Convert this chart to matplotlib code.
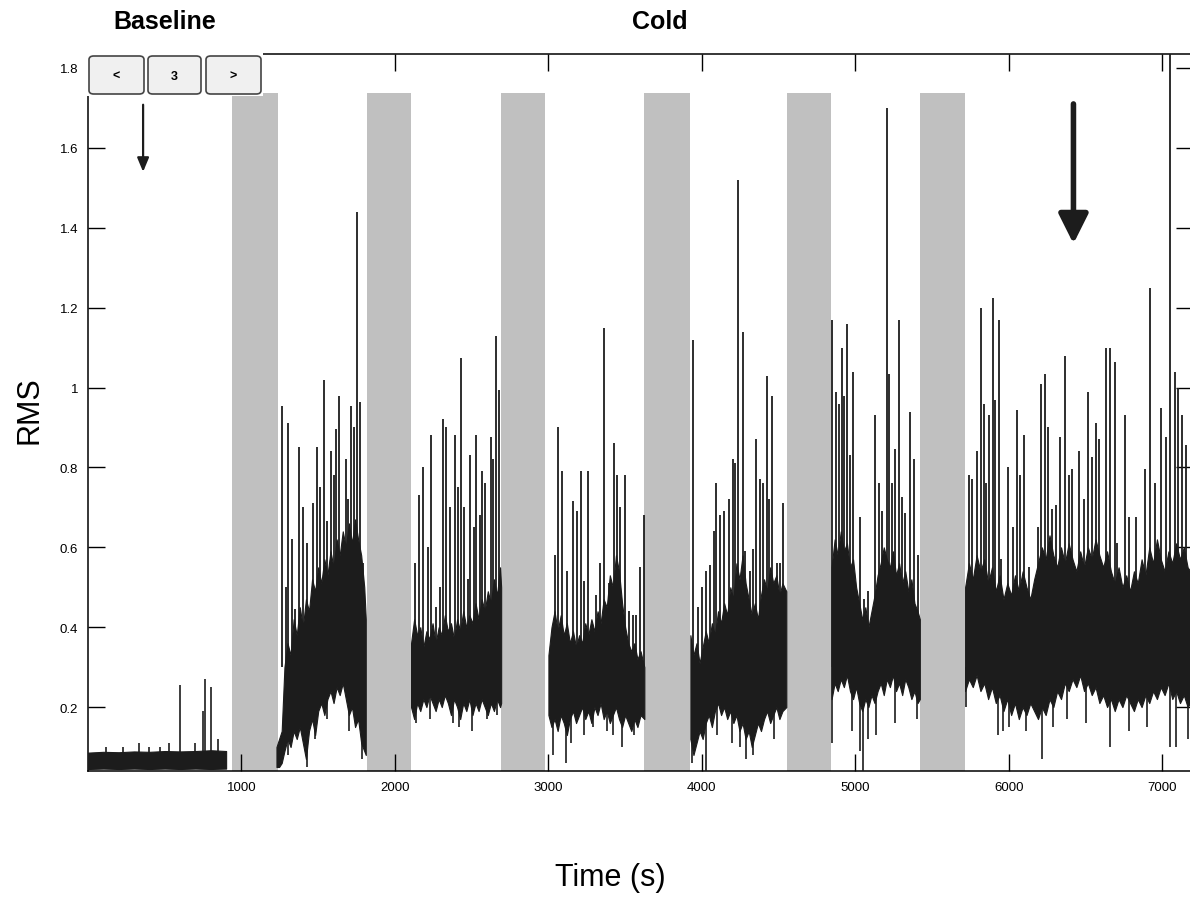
import matplotlib
matplotlib.use('Agg')
import matplotlib.pyplot as plt
from matplotlib.patches import FancyBboxPatch, Rectangle

plt.rcParams['font.family'] = ['Liberation Sans', 'DejaVu Sans']

# cold exposure periods (grey bands), seconds
band_start = [940, 1815, 2690, 3625, 4555, 5420]
band_width = [300, 290, 290, 295, 285, 295]
band_top = 1.7375

# dense part of the RMS trace: time knots with lower / upper edge
base_t = [0, 100, 200, 300, 400, 500, 600, 700, 800, 900]
base_lo = [0.045, 0.046, 0.045, 0.046, 0.045, 0.046, 0.045, 0.046, 0.045, 0.046]
base_hi = [0.086, 0.088, 0.087, 0.089, 0.088, 0.090, 0.089, 0.090, 0.092, 0.090]

a_t = [1228, 1245, 1262, 1280, 1300, 1320, 1340, 1360, 1380, 1400, 1420, 1440, 1460, 1480, 1500, 1520,
       1540, 1560, 1580, 1600, 1620, 1640, 1660, 1680, 1700, 1720, 1740, 1760, 1780, 1800, 1810]
a_lo = [0.05, 0.05, 0.06, 0.09, 0.12, 0.10, 0.14, 0.12, 0.15, 0.11, 0.07, 0.14, 0.17, 0.13, 0.19, 0.21,
        0.18, 0.22, 0.24, 0.21, 0.25, 0.23, 0.26, 0.22, 0.18, 0.20, 0.15, 0.17, 0.11, 0.09, 0.08]
a_hi = [0.10, 0.12, 0.14, 0.30, 0.36, 0.33, 0.42, 0.38, 0.45, 0.40, 0.47, 0.44, 0.52, 0.49, 0.55, 0.51,
        0.57, 0.53, 0.59, 0.55, 0.62, 0.58, 0.64, 0.60, 0.66, 0.61, 0.67, 0.62, 0.58, 0.50, 0.42]

b_t = [2105, 2125, 2145, 2165, 2185, 2205, 2225, 2245, 2265, 2285, 2305, 2325, 2345, 2365, 2385, 2405,
       2425, 2445, 2465, 2485, 2505, 2525, 2545, 2565, 2585, 2605, 2625, 2645, 2665, 2685, 2692]
b_lo = [0.20, 0.17, 0.21, 0.19, 0.22, 0.20, 0.23, 0.21, 0.19, 0.22, 0.20, 0.23, 0.21, 0.18, 0.22, 0.20,
        0.17, 0.21, 0.19, 0.22, 0.18, 0.21, 0.19, 0.22, 0.20, 0.18, 0.21, 0.19, 0.22, 0.20, 0.21]
b_hi = [0.36, 0.42, 0.38, 0.40, 0.35, 0.39, 0.37, 0.41, 0.36, 0.40, 0.38, 0.43, 0.39, 0.41, 0.37, 0.42,
        0.39, 0.44, 0.40, 0.43, 0.41, 0.46, 0.42, 0.47, 0.44, 0.49, 0.46, 0.52, 0.48, 0.55, 0.50]

c_t = [3000, 3020, 3040, 3060, 3080, 3100, 3120, 3140, 3160, 3180, 3200, 3220, 3240, 3260, 3280, 3300,
       3320, 3340, 3360, 3380, 3400, 3420, 3440, 3460, 3480, 3500, 3520, 3540, 3560, 3580, 3600, 3625]
c_lo = [0.18, 0.15, 0.17, 0.14, 0.18, 0.16, 0.13, 0.17, 0.19, 0.16, 0.18, 0.20, 0.17, 0.19, 0.16, 0.20,
        0.18, 0.21, 0.17, 0.19, 0.16, 0.18, 0.20, 0.17, 0.15, 0.18, 0.16, 0.14, 0.17, 0.15, 0.18, 0.17]
c_hi = [0.33, 0.40, 0.44, 0.39, 0.43, 0.38, 0.41, 0.36, 0.39, 0.35, 0.38, 0.36, 0.41, 0.38, 0.42, 0.39,
        0.44, 0.41, 0.47, 0.45, 0.53, 0.50, 0.58, 0.54, 0.46, 0.40, 0.36, 0.34, 0.36, 0.32, 0.34, 0.30]

d_t = [3925, 3945, 3965, 3985, 4005, 4025, 4045, 4065, 4085, 4105, 4125, 4145, 4165, 4185, 4205, 4225,
       4245, 4265, 4285, 4305, 4325, 4345, 4365, 4385, 4405, 4425, 4445, 4465, 4485, 4505, 4525, 4550]
d_lo = [0.12, 0.08, 0.11, 0.14, 0.12, 0.16, 0.18, 0.15, 0.19, 0.21, 0.18, 0.20, 0.17, 0.19, 0.16, 0.18,
        0.14, 0.16, 0.12, 0.14, 0.10, 0.13, 0.16, 0.14, 0.17, 0.19, 0.16, 0.18, 0.20, 0.17, 0.19, 0.20]
d_hi = [0.38, 0.33, 0.36, 0.31, 0.35, 0.39, 0.36, 0.41, 0.38, 0.44, 0.41, 0.46, 0.43, 0.50, 0.47, 0.56,
        0.52, 0.58, 0.51, 0.47, 0.43, 0.46, 0.42, 0.48, 0.52, 0.49, 0.55, 0.51, 0.53, 0.48, 0.51, 0.49]

e_t = [4845, 4865, 4885, 4905, 4925, 4945, 4965, 4985, 5005, 5025, 5045, 5065, 5085, 5105, 5125, 5145,
       5165, 5185, 5205, 5225, 5245, 5265, 5285, 5305, 5325, 5345, 5365, 5385, 5405, 5420]
e_lo = [0.22, 0.26, 0.24, 0.27, 0.25, 0.28, 0.24, 0.22, 0.25, 0.21, 0.19, 0.22, 0.20, 0.23, 0.21, 0.24,
        0.26, 0.23, 0.27, 0.25, 0.28, 0.24, 0.26, 0.23, 0.27, 0.25, 0.22, 0.24, 0.21, 0.22]
e_hi = [0.55, 0.62, 0.58, 0.64, 0.59, 0.61, 0.55, 0.57, 0.50, 0.46, 0.42, 0.45, 0.40, 0.44, 0.48, 0.53,
        0.56, 0.60, 0.57, 0.55, 0.59, 0.53, 0.56, 0.51, 0.54, 0.49, 0.52, 0.46, 0.44, 0.42]

f_t = [5715, 5740, 5765, 5790, 5815, 5840, 5865, 5890, 5915, 5940, 5965, 5990, 6015, 6040, 6065, 6090,
       6115, 6140, 6165, 6190, 6215, 6240, 6265, 6290, 6315, 6340, 6365, 6390, 6415, 6440, 6465, 6490,
       6515, 6540, 6565, 6590, 6615, 6640, 6665, 6690, 6715, 6740, 6765, 6790, 6815, 6840, 6865, 6890,
       6915, 6940, 6965, 6990, 7015, 7040, 7065, 7090, 7115, 7140, 7165, 7200]
f_lo = [0.24, 0.27, 0.25, 0.28, 0.24, 0.26, 0.22, 0.25, 0.21, 0.23, 0.19, 0.22, 0.18, 0.21, 0.17, 0.20,
        0.18, 0.21, 0.19, 0.17, 0.20, 0.18, 0.22, 0.20, 0.24, 0.22, 0.26, 0.24, 0.27, 0.25, 0.28, 0.24,
        0.26, 0.23, 0.25, 0.21, 0.23, 0.20, 0.22, 0.19, 0.22, 0.20, 0.23, 0.21, 0.19, 0.22, 0.20, 0.23,
        0.21, 0.24, 0.22, 0.25, 0.23, 0.26, 0.22, 0.24, 0.21, 0.23, 0.20, 0.22]
f_hi = [0.50, 0.56, 0.52, 0.58, 0.54, 0.57, 0.51, 0.55, 0.49, 0.53, 0.47, 0.51, 0.48, 0.53, 0.49, 0.54,
        0.50, 0.47, 0.52, 0.56, 0.60, 0.57, 0.63, 0.58, 0.55, 0.60, 0.56, 0.61, 0.57, 0.54, 0.59, 0.55,
        0.60, 0.57, 0.62, 0.58, 0.55, 0.59, 0.54, 0.51, 0.55, 0.50, 0.53, 0.49, 0.54, 0.51, 0.57, 0.53,
        0.60, 0.56, 0.62, 0.57, 0.54, 0.59, 0.56, 0.61, 0.57, 0.60, 0.55, 0.53]

# single samples sticking out of the dense part
base_spike_t = [120, 230, 330, 400, 470, 530, 601, 700, 752, 765, 804, 850]
base_spike_v = [0.10, 0.10, 0.11, 0.10, 0.10, 0.11, 0.255, 0.11, 0.19, 0.27, 0.25, 0.12]

spike_t = [1261, 1287, 1306, 1330, 1352, 1372, 1400, 1424, 1463, 1489, 1510, 1535, 1555, 1581, 1600, 1613,
           1633, 1666, 1680, 1692, 1711, 1730, 1750, 1770, 1790,
           2129, 2155, 2182, 2214, 2234, 2266, 2293, 2312, 2332, 2358, 2391, 2410, 2430, 2449, 2476, 2489,
           2515, 2528, 2554, 2567, 2587, 2626, 2639, 2658, 2678,
           3044, 3063, 3089, 3122, 3161, 3187, 3214, 3233, 3259, 3312, 3338, 3364, 3396, 3429, 3449, 3468,
           3501, 3527, 3553, 3573, 3599, 3620,
           3945, 3975, 4000, 4030, 4050, 4076, 4095, 4121, 4141, 4174, 4200, 4219, 4233, 4265, 4278, 4311,
           4330, 4350, 4376, 4396, 4422, 4435, 4455, 4487, 4507, 4526,
           4846, 4873, 4892, 4912, 4925, 4944, 4964, 4984, 5029, 5056, 5082, 5127, 5153, 5173, 5206, 5219,
           5238, 5258, 5284, 5304, 5323, 5356, 5382, 5410,
           5741, 5761, 5794, 5820, 5839, 5852, 5872, 5898, 5911, 5937, 5950, 5996, 6029, 6055, 6074, 6101,
           6133, 6192, 6212, 6238, 6257, 6283, 6310, 6336, 6368, 6395, 6414, 6460, 6493, 6519, 6545, 6571,
           6590, 6630, 6656, 6689, 6708, 6760, 6786, 6826, 6884, 6917, 6950, 6989, 7022, 7052, 7080, 7100,
           7126, 7152, 7185]
spike_v = [0.955, 0.50, 0.91, 0.62, 0.445, 0.85, 0.70, 0.61, 0.71, 0.85, 0.75, 1.02, 0.665, 0.84, 0.78, 0.895,
           0.98, 0.60, 0.82, 0.72, 0.955, 0.90, 1.44, 0.965, 0.56,
           0.56, 0.73, 0.80, 0.60, 0.88, 0.45, 0.50, 0.92, 0.90, 0.70, 0.88, 0.75, 1.075, 0.70, 0.52, 0.83,
           0.65, 0.88, 0.68, 0.79, 0.76, 0.875, 0.82, 1.13, 0.995,
           0.58, 0.90, 0.79, 0.54, 0.715, 0.69, 0.79, 0.515, 0.79, 0.48, 0.56, 1.15, 0.51, 0.86, 0.78, 0.70,
           0.78, 0.44, 0.43, 0.43, 0.55, 0.68,
           1.12, 0.45, 0.50, 0.54, 0.555, 0.64, 0.76, 0.68, 0.69, 0.72, 0.82, 0.81, 1.52, 1.14, 0.59, 0.54,
           0.595, 0.87, 0.77, 0.76, 1.03, 0.72, 0.98, 0.56, 0.56, 0.71,
           1.17, 0.99, 0.96, 1.10, 0.98, 1.16, 0.83, 1.04, 0.675, 0.47, 0.49, 0.93, 0.76, 0.69, 1.70, 1.035,
           0.76, 0.845, 1.17, 0.725, 0.685, 0.94, 0.82, 0.58,
           0.78, 0.77, 0.84, 1.20, 0.96, 0.76, 0.93, 1.225, 0.97, 1.17, 0.57, 0.80, 0.65, 0.945, 0.78, 0.88,
           0.55, 0.65, 1.01, 1.035, 0.90, 0.695, 0.705, 0.875, 1.08, 0.78, 0.795, 0.84, 0.72, 0.99, 0.825, 0.91,
           0.87, 1.10, 1.10, 1.065, 0.61, 0.93, 0.675, 0.675, 0.795, 1.25, 0.76, 0.95, 0.875, 1.90, 1.04, 1.00,
           0.93, 0.855, 0.78]

dip_t = [1300, 1424, 1480, 1560, 1700, 1785,
         2135, 2230, 2380, 2420, 2505, 2600, 2665,
         3031, 3115, 3150, 3230, 3290, 3380, 3420, 3480, 3560,
         3935, 4030, 4100, 4195, 4250, 4290, 4330, 4470,
         4850, 4980, 5030, 5050, 5080, 5135, 5260, 5400,
         5720, 5930, 5960, 6000, 6110, 6215, 6290, 6380, 6500, 6660, 6780, 6900, 7052, 7090, 7170]
dip_v = [0.08, 0.05, 0.12, 0.17, 0.14, 0.07,
         0.16, 0.17, 0.16, 0.15, 0.14, 0.17, 0.18,
         0.08, 0.06, 0.11, 0.13, 0.15, 0.14, 0.13, 0.10, 0.13,
         0.06, 0.04, 0.13, 0.11, 0.10, 0.07, 0.08, 0.12,
         0.11, 0.14, 0.09, 0.04, 0.12, 0.13, 0.16, 0.17,
         0.20, 0.13, 0.14, 0.15, 0.14, 0.07, 0.15, 0.17, 0.16, 0.10, 0.14, 0.15, 0.10, 0.10, 0.12]

x_ticks = [1000, 2000, 3000, 4000, 5000, 6000, 7000]
y_ticks = [0.2, 0.4, 0.6, 0.8, 1.0, 1.2, 1.4, 1.6, 1.8]
y_labels = ['0.2', '0.4', '0.6', '0.8', '1', '1.2', '1.4', '1.6', '1.8']

W, H = 1190, 903
ink = '#1c1c1c'

fig = plt.figure(figsize=(W / 100, H / 100), dpi=100)
ax = fig.add_axes([88 / W, 1 - 772 / H, (1193 - 88) / W, (772 - 55) / H])

ax.bar(band_start, [band_top - 0.04] * len(band_start), width=band_width, bottom=0.04,
       align='edge', color='#c0c0c0', linewidth=0, zorder=1)

segments = [(base_t, base_lo, base_hi), (a_t, a_lo, a_hi), (b_t, b_lo, b_hi), (c_t, c_lo, c_hi),
            (d_t, d_lo, d_hi), (e_t, e_lo, e_hi), (f_t, f_lo, f_hi)]
for t, lo, hi in segments:
    ax.fill_between(t, lo, hi, color=ink, linewidth=0.8, zorder=3)

ax.vlines(base_spike_t, 0.05, base_spike_v, color=ink, linewidth=1.2, zorder=3)
ax.vlines(spike_t, 0.3, spike_v, color=ink, linewidth=1.3, zorder=3)
ax.vlines(dip_t, dip_v, 0.3, color=ink, linewidth=1.2, zorder=3)

# arrows
ax.annotate('', xy=(359, 1.54), xytext=(359, 1.708),
            arrowprops=dict(arrowstyle='-|>,head_width=0.25,head_length=0.6', lw=1.6, color=ink,
                            mutation_scale=14, shrinkA=0, shrinkB=0), zorder=6)
ax.annotate('', xy=(6421, 1.36), xytext=(6421, 1.71),
            arrowprops=dict(arrowstyle='-|>,head_width=0.45,head_length=0.9', lw=4, color=ink,
                            mutation_scale=20, shrinkA=0, shrinkB=0), zorder=6)

ax.set_xlim(0, 7200)
ax.set_ylim(0.04, 1.835)
ax.set_xticks(x_ticks)
ax.set_xticklabels([str(v) for v in x_ticks])
ax.set_yticks(y_ticks)
ax.set_yticklabels(y_labels)
ax.tick_params(direction='in', length=12, width=1, top=True, right=True, labelsize=9.5, pad=7,
               colors='black')
for sp in ax.spines.values():
    sp.set_linewidth(1.1)

# white area + buttons covering the top left corner
fig.add_artist(Rectangle((84 / W, 1 - 97 / H), (263 - 84) / W, 47 / H, transform=fig.transFigure,
                         facecolor='white', edgecolor='none', zorder=5))
for x0, x1, s in [(89, 144, '<'), (148, 201, '3'), (206, 261, '>')]:
    fig.add_artist(FancyBboxPatch((x0 / W, 1 - 95 / H), (x1 - x0) / W, 38 / H,
                                  boxstyle='round,pad=0,rounding_size=0.004', transform=fig.transFigure,
                                  facecolor='#f0f0f0', edgecolor='#444444', linewidth=1.2, zorder=6))
    fig.text((x0 + x1) / 2 / W, 1 - 77 / H, s, ha='center', va='center', fontsize=9,
             fontweight='bold', zorder=7)

fig.text(165 / W, 1 - 22 / H, 'Baseline', ha='center', va='center', fontsize=18, fontweight='bold')
fig.text(660 / W, 1 - 22 / H, 'Cold', ha='center', va='center', fontsize=18, fontweight='bold')
fig.text(30 / W, 1 - 410 / H, 'RMS', ha='center', va='center', rotation=90, fontsize=22)
fig.text(610 / W, 1 - 878 / H, 'Time (s)', ha='center', va='center', fontsize=22)

fig.savefig('out.png', dpi=100)
